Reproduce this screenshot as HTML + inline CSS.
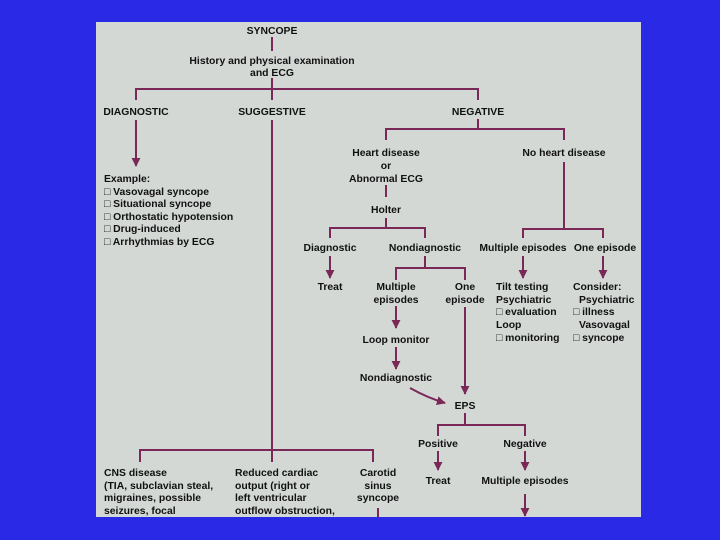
<!DOCTYPE html>
<html><head><meta charset="utf-8"><style>
html,body{margin:0;padding:0;background:#2a2ae6;}
svg{display:block}
text{font-family:"Liberation Sans",Arial,sans-serif;font-weight:bold;font-size:10.4px;fill:#111;}
.m{text-anchor:middle}
</style></head><body>
<svg width="720" height="540" viewBox="0 0 720 540" xmlns="http://www.w3.org/2000/svg">
<defs><marker id="a" viewBox="0 0 10 10" refX="9" refY="5" markerWidth="9" markerHeight="9" orient="auto" markerUnits="userSpaceOnUse"><path d="M0,0 L10,5 L0,10 z" fill="#7a2858"/></marker></defs>
<rect x="0" y="0" width="720" height="540" fill="#2a2ae6"/>
<rect x="96" y="22" width="545" height="495" fill="#d3d8d5"/>
<g stroke="#7a2858" stroke-width="2" fill="none">
<line x1="272" y1="37" x2="272" y2="51"/>
<line x1="272" y1="78" x2="272" y2="100"/>
<polyline points="136,100 136,89 478,89 478,100"/>
<line x1="136" y1="120" x2="136" y2="166" marker-end="url(#a)"/>
<line x1="272" y1="120" x2="272" y2="462"/>
<polyline points="140,462 140,450 373,450 373,462"/>
<line x1="378" y1="508" x2="378" y2="517"/>
<line x1="478" y1="119" x2="478" y2="129"/>
<polyline points="386,140 386,129 564,129 564,140"/>
<line x1="386" y1="185" x2="386" y2="197"/>
<line x1="386" y1="218" x2="386" y2="228"/>
<polyline points="330,238 330,228 425,228 425,238"/>
<line x1="564" y1="162" x2="564" y2="229"/>
<polyline points="523,238 523,229 603,229 603,238"/>
<line x1="330" y1="256" x2="330" y2="278" marker-end="url(#a)"/>
<line x1="523" y1="256" x2="523" y2="278" marker-end="url(#a)"/>
<line x1="603" y1="256" x2="603" y2="278" marker-end="url(#a)"/>
<line x1="425" y1="256" x2="425" y2="268"/>
<polyline points="396,280 396,268 465,268 465,280"/>
<line x1="396" y1="306" x2="396" y2="328" marker-end="url(#a)"/>
<line x1="465" y1="307" x2="465" y2="394" marker-end="url(#a)"/>
<line x1="396" y1="347" x2="396" y2="369" marker-end="url(#a)"/>
<path d="M410,388 Q428,398 445,403" marker-end="url(#a)"/>
<line x1="465" y1="413" x2="465" y2="425"/>
<polyline points="438,436 438,425 525,425 525,436"/>
<line x1="438" y1="451" x2="438" y2="470" marker-end="url(#a)"/>
<line x1="525" y1="451" x2="525" y2="470" marker-end="url(#a)"/>
<line x1="525" y1="494" x2="525" y2="516" marker-end="url(#a)"/>
</g>
<text class="m" x="272" y="34">SYNCOPE</text>
<text class="m" x="272" y="64">History and physical examination</text>
<text class="m" x="272" y="76">and ECG</text>
<text class="m" x="136" y="115">DIAGNOSTIC</text>
<text class="m" x="272" y="115">SUGGESTIVE</text>
<text class="m" x="478" y="115">NEGATIVE</text>
<text x="104" y="182">Example:</text>
<text x="104" y="195">□ Vasovagal syncope</text>
<text x="104" y="207">□ Situational syncope</text>
<text x="104" y="220">□ Orthostatic hypotension</text>
<text x="104" y="232">□ Drug-induced</text>
<text x="104" y="245">□ Arrhythmias by ECG</text>
<text class="m" x="386" y="156">Heart disease</text>
<text class="m" x="386" y="169">or</text>
<text class="m" x="386" y="182">Abnormal ECG</text>
<text class="m" x="386" y="213">Holter</text>
<text class="m" x="564" y="156">No heart disease</text>
<text class="m" x="330" y="251">Diagnostic</text>
<text class="m" x="425" y="251">Nondiagnostic</text>
<text class="m" x="523" y="251">Multiple episodes</text>
<text class="m" x="605" y="251">One episode</text>
<text class="m" x="330" y="290">Treat</text>
<text class="m" x="396" y="290">Multiple</text>
<text class="m" x="396" y="303">episodes</text>
<text class="m" x="465" y="290">One</text>
<text class="m" x="465" y="303">episode</text>
<text x="496" y="290">Tilt testing</text>
<text x="496" y="303">Psychiatric</text>
<text x="496" y="315">□ evaluation</text>
<text x="496" y="328">Loop</text>
<text x="496" y="341">□ monitoring</text>
<text x="573" y="290">Consider:</text>
<text x="579" y="303">Psychiatric</text>
<text x="573" y="315">□ illness</text>
<text x="579" y="328">Vasovagal</text>
<text x="573" y="341">□ syncope</text>
<text class="m" x="396" y="343">Loop monitor</text>
<text class="m" x="396" y="381">Nondiagnostic</text>
<text class="m" x="465" y="409">EPS</text>
<text class="m" x="438" y="447">Positive</text>
<text class="m" x="525" y="447">Negative</text>
<text class="m" x="438" y="484">Treat</text>
<text class="m" x="525" y="484">Multiple episodes</text>
<text x="104" y="476">CNS disease</text>
<text x="104" y="489">(TIA, subclavian steal,</text>
<text x="104" y="501">migraines, possible</text>
<text x="104" y="514">seizures, focal</text>
<text x="235" y="476">Reduced cardiac</text>
<text x="235" y="489">output (right or</text>
<text x="235" y="501">left ventricular</text>
<text x="235" y="514">outflow obstruction,</text>
<text class="m" x="378" y="476">Carotid</text>
<text class="m" x="378" y="489">sinus</text>
<text class="m" x="378" y="501">syncope</text>
</svg>
</body></html>
